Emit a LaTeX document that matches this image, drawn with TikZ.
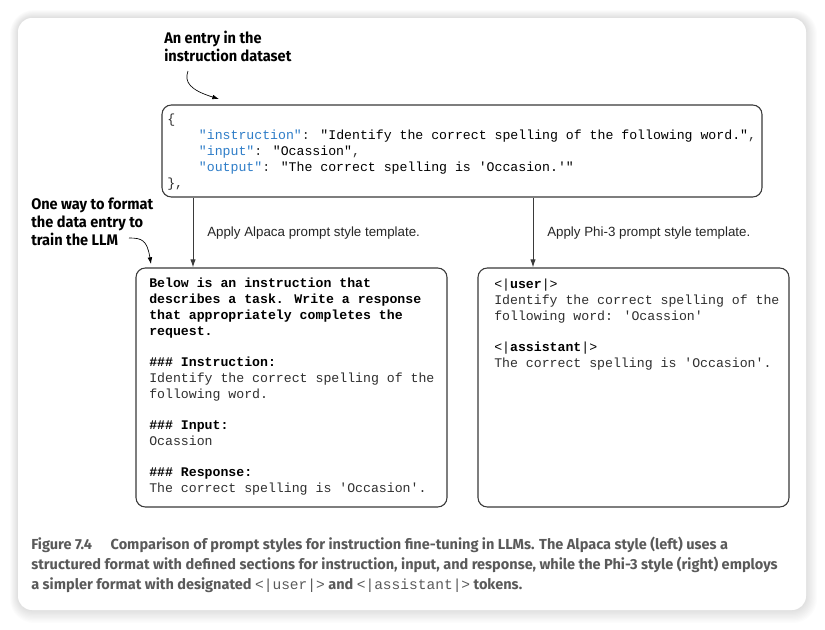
\documentclass[tikz,border=0pt]{standalone}
\usepackage{fontspec}
\usetikzlibrary{arrows.meta,fit}
\setmainfont{Liberation Sans}
\newfontfamily\codefont[Ligatures=TeXOff]{Liberation Mono}
\newfontfamily\annfont[FakeStretch=0.95]{Fira Sans}
\newfontfamily\capfont{Fira Sans}
\definecolor{jsonblue}{HTML}{2E7DC8}
\definecolor{captiongray}{HTML}{5A5A5A}
\definecolor{codegray}{HTML}{2F2F2F}
\definecolor{boxline}{HTML}{3A3A3A}
\tikzset{
  card/.style={fill=white, rounded corners=10.5pt},
  codebox/.style={draw=boxline, line width=0.8pt, rounded corners=7pt, inner sep=0pt},
  codetext/.style={anchor=base west, inner sep=0pt, align=left,
    font=\codefont\fontsize{9.9}{12}\selectfont, text=codegray},
  annot/.style={anchor=base west, inner sep=0pt, align=left,
    font=\annfont\bfseries\fontsize{11.5}{13.5}\selectfont},
  applylabel/.style={anchor=base west, inner sep=0pt, font=\fontsize{10}{11}\selectfont, text=black!85},
  captext/.style={anchor=base west, inner sep=0pt, align=left,
    font=\capfont\bfseries\fontsize{10.9}{15}\selectfont, text=captiongray},
  flowarrow/.style={draw=boxline, line width=0.75pt, -{Latex[length=6pt,width=4pt]}},
  annarrow/.style={draw=black, line width=0.5pt, -{Latex[length=5pt,width=3.5pt]}},
}
\newcommand{\jk}[1]{\textcolor{jsonblue}{"#1"}}
\newcommand{\bk}[1]{\textcolor{black}{\bfseries #1}}
\begin{document}
\begin{tikzpicture}[x=0.75pt,y=-0.75pt]
\useasboundingbox (0,0) rectangle (825,629);
% shadow
\foreach \i in {1,...,10}{
  \fill[black, opacity=0.012, rounded corners=10.5pt+0.75*\i pt]
    (18-\i*0.8,18-\i*0.8) rectangle (806+\i*1.1,610+\i*1.3);
}
\fill[card] (18,18) rectangle (806,610);

% boxes
\node[codebox, fit={(162,105) (762,197)}] (top) {};
\node[codebox, fit={(136,268) (447,507)}] (lb) {};
\node[codebox, fit={(478,268) (789,507)}] (rb) {};

% top text (anchor = baseline of last line)
\node[codetext] (toptxt) at (167,187) {\{\\
\ \ \ \ \jk{instruction}: \textcolor{black}{"Identify the correct spelling of the following word."},\\
\ \ \ \ \jk{input}: \textcolor{black}{"Ocassion"},\\
\ \ \ \ \jk{output}: \textcolor{black}{"The correct spelling is 'Occasion.'"}\\
\},};

% left text
\node[codetext] (ltxt) at (149,492) {\bk{Below is an instruction that}\\
\bk{describes a task. Write a response}\\
\bk{that appropriately completes the}\\
\bk{request.}\\[11.25pt]
\bk{\#\#\# Instruction:}\\
Identify the correct spelling of the\\
following word.\\[11.25pt]
\bk{\#\#\# Input:}\\
Ocassion\\[11.25pt]
\bk{\#\#\# Response:}\\
The correct spelling is 'Occasion'.};

% right text
\node[codetext] (rtxt) at (494,367) {\textcolor{black}{<|\textbf{user}|>}\\
Identify the correct spelling of the\\
following word: 'Ocassion'\\[11.25pt]
\textcolor{black}{<|\textbf{assistant}|>}\\
The correct spelling is 'Occasion'.};

% flow arrows
\coordinate (xa) at (193,0);
\coordinate (xb) at (533,0);
\draw[flowarrow] (top.south -| xa) -- (lb.north -| xa);
\draw[flowarrow] (top.south -| xb) -- (rb.north -| xb);
\node[applylabel] (la) at (207,236) {Apply Alpaca prompt style template.};
\node[applylabel] (lbl2) at (547,236) {Apply Phi-3 prompt style template.};

% annotations
\node[annot] (ann1) at (164,61) {An entry in the\\instruction dataset};
\node[annot] (ann2) at (31,245) {One way to format\\the data entry to\\train the LLM};
\coordinate (a1s) at (188,71);
\coordinate (a1e) at (219,99);
\draw[annarrow] (a1s) .. controls (184,82) and (190,90) .. (a1e);
\coordinate (a2s) at (129,238);
\coordinate (a2e) at (151,264);
\draw[annarrow] (a2s) .. controls (142,238) and (147,240) .. (a2e);

% caption
\node[captext] (cap) at (31,589) {Figure 7.4\hspace{14pt}Comparison of prompt styles for instruction fine-tuning in LLMs. The Alpaca style (left) uses a\\
structured format with defined sections for instruction, input, and response, while the Phi-3 style (right) employs\\
a simpler format with designated {\codefont\mdseries <|user|>} and {\codefont\mdseries <|assistant|>} tokens.};
\end{tikzpicture}
\end{document}
